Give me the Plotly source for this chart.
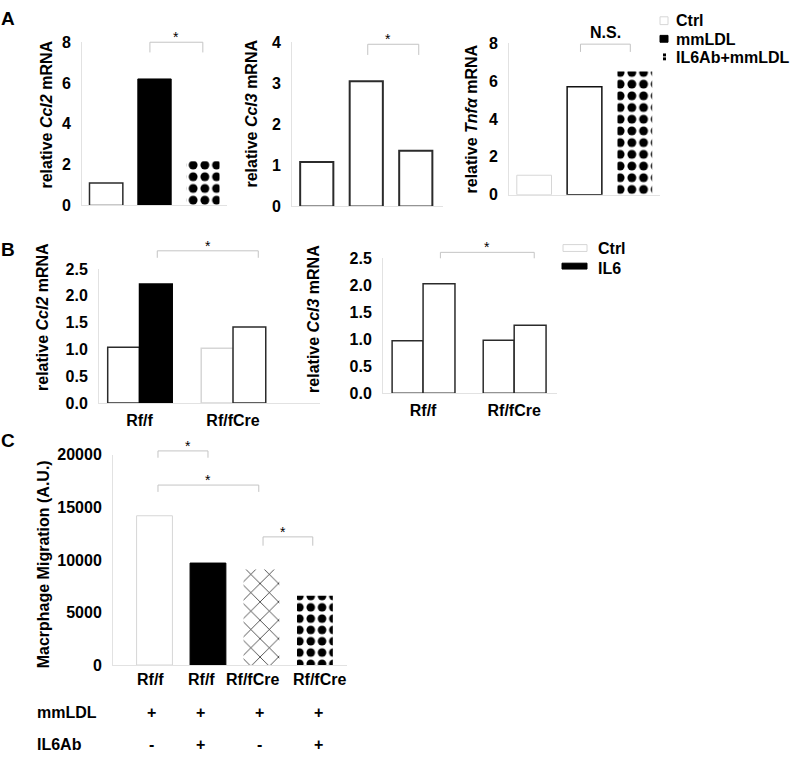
import plotly.graph_objects as go

W, H = 800, 762
FONT = "Liberation Sans, Arial, sans-serif"

# ---------------- data ----------------
a_groups = ["Ctrl", "mmLDL", "IL6Ab+mmLDL"]
ccl2_a = [1.1, 6.2, 2.17]
ccl3_a = [1.08, 3.05, 1.36]
tnfa_a = [1.03, 5.7, 6.5]

b_genotypes = ["Rf/f", "Rf/fCre"]
b_treatments = ["Ctrl", "IL6"]
ccl2_b_ctrl = [1.04, 1.02]
ccl2_b_il6 = [2.22, 1.42]
ccl3_b_ctrl = [0.97, 0.98]
ccl3_b_il6 = [2.03, 1.26]

c_labels = ["Rf/f", "Rf/f", "Rf/fCre", "Rf/fCre"]
c_migration = [14200, 9700, 9090, 6600]
c_mmldl = ["+", "+", "+", "+"]
c_il6ab = ["-", "+", "-", "+"]

a_ticks = [0, 2, 4, 6, 8]
a2_ticks = [0, 1, 2, 3, 4]
b_ticks = [0, 0.5, 1.0, 1.5, 2.0, 2.5]
c_ticks = [0, 5000, 10000, 15000, 20000]


def px(x):
    return x / W


def py(y):
    return 1 - y / H


# panel geometry (pixels) and axis ranges
panels = {
    1: dict(xd=(82, 227), yd=(35, 202), xr=(-0.5, 2.5), yr=(0, 8), ticks=a_ticks, fmt="", xlab=False),
    2: dict(xd=(292, 443), yd=(35, 203), xr=(-0.5, 2.55), yr=(0, 4), ticks=a2_ticks, fmt="", xlab=False),
    3: dict(xd=(509, 660), yd=(36, 191), xr=(-0.5, 2.5), yr=(0, 8), ticks=a_ticks, fmt="", xlab=False),
    4: dict(xd=(99, 320), yd=(267, 404), xr=(-0.433, 1.93), yr=(0, 2.5), ticks=b_ticks, fmt=".1f", xlab=True),
    5: dict(xd=(383, 557), yd=(256, 394), xr=(-0.44, 1.47), yr=(0, 2.5), ticks=b_ticks, fmt=".1f", xlab=True),
    6: dict(xd=(113, 347), yd=(457, 672), xr=(-0.776, 3.6), yr=(0, 20000), ticks=c_ticks, fmt="d", xlab=False),
}

fig = go.Figure()
AX = "#e2e2e2"
tickfont = dict(family=FONT, size=16, color="black", weight="bold")


def sfx(n):
    return "" if n == 1 else str(n)


for n, p in panels.items():
    fig.layout["xaxis" + sfx(n)] = dict(
        domain=[px(p["xd"][0]), px(p["xd"][1])], anchor="y" + sfx(n), range=list(p["xr"]),
        showline=True, linecolor=AX, linewidth=1, showgrid=False, zeroline=False,
        ticks="", showticklabels=p["xlab"], tickfont=tickfont, tickangle=0, fixedrange=True,
        ticklabelstandoff=3,
    )
    fig.layout["yaxis" + sfx(n)] = dict(
        domain=[py(p["yd"][1]), py(p["yd"][0])], anchor="x" + sfx(n), range=list(p["yr"]),
        tickvals=p["ticks"], tickformat=p["fmt"], showline=True, linecolor=AX, linewidth=1,
        showgrid=False, zeroline=False, ticks="", tickfont=tickfont, ticklabelstandoff=7,
        fixedrange=True,
    )

DARK = "#2b2b2b"
LIGHT = "#d6d6d6"
# patterned bars: marker colour is the pattern foreground in "replace" mode
dots = dict(fillmode="replace")

# ---- Panel A ----
fig.add_trace(go.Bar(
    x=a_groups, y=ccl2_a, xaxis="x", yaxis="y", width=0.69, showlegend=False,
    marker=dict(color=["white", "black", "black"],
                line=dict(color=[DARK, "black", "white"], width=[1.5, 1, 0]),
                pattern=dict(shape=["", "", "."], size=11.7, solidity=0.45, **dots)),
))
fig.add_trace(go.Bar(
    x=a_groups, y=ccl3_a, xaxis="x2", yaxis="y2", width=0.67, showlegend=False,
    marker=dict(color="white", line=dict(color=DARK, width=2)),
))
fig.add_trace(go.Bar(
    x=a_groups, y=tnfa_a, xaxis="x3", yaxis="y3", width=0.69, showlegend=False,
    marker=dict(color=["white", "white", "black"],
                line=dict(color=[LIGHT, "#111111", "white"], width=[1, 1.5, 0]),
                pattern=dict(shape=["", "", "."], size=11.7, solidity=0.45, **dots)),
))

# ---- Panel B ----
fig.add_trace(go.Bar(
    x=b_genotypes, y=ccl2_b_ctrl, xaxis="x4", yaxis="y4", offset=-0.34, width=0.34,
    showlegend=False, marker=dict(color="white", line=dict(color=[DARK, LIGHT], width=1.5)),
))
fig.add_trace(go.Bar(
    x=b_genotypes, y=ccl2_b_il6, xaxis="x4", yaxis="y4", offset=0.0, width=0.35,
    showlegend=False, marker=dict(color=["black", "white"], line=dict(color=["black", DARK], width=1.5)),
))
fig.add_trace(go.Bar(
    x=b_genotypes, y=ccl3_b_ctrl, xaxis="x5", yaxis="y5", offset=-0.34, width=0.34,
    showlegend=False, marker=dict(color="white", line=dict(color=DARK, width=1.5)),
))
fig.add_trace(go.Bar(
    x=b_genotypes, y=ccl3_b_il6, xaxis="x5", yaxis="y5", offset=0.0, width=0.35,
    showlegend=False, marker=dict(color="white", line=dict(color=DARK, width=1.5)),
))

# ---- Panel C ----
c_idx = list(range(len(c_labels)))
fig.add_trace(go.Bar(
    x=c_idx, y=c_migration, xaxis="x6", yaxis="y6", width=0.67, showlegend=False,
    marker=dict(color=["white", "black", "black", "black"],
                line=dict(color=[LIGHT, "black", "white", "white"], width=[1, 1, 0, 0]),
                pattern=dict(shape=["", "", "x", "."], size=[8, 8, 13, 11.3],
                             solidity=[0.3, 0.3, 0.1, 0.45], **dots)),
))

# ---- significance brackets (category units, data units) ----
brackets = [
    (1, 0.905, 2.0, 8.0, 7.5, "*"),
    (2, 1.03, 2.06, 3.95, 3.69, "*"),
    (3, 0.92, 1.91, 7.95, 7.54, "N.S."),
    (4, 0.19, 1.27, 2.84, 2.71, "*"),
    (5, 0.19, 1.22, 2.61, 2.50, "*"),
    (6, 0.065, 1.0, 20370, 19720, "*"),
    (6, 0.065, 1.95, 17120, 16470, "*"),
    (6, 2.03, 2.96, 12190, 11350, "*"),
]
shapes = []
annotations = []
for n, x0, x1, ytop, ydrop, lab in brackets:
    p = panels[n]
    xr0, xr1 = p["xr"]
    ymax = p["yr"][1]
    fx0 = (x0 - xr0) / (xr1 - xr0)
    fx1 = (x1 - xr0) / (xr1 - xr0)
    ft = ytop / ymax
    fd = ydrop / ymax
    shapes.append(dict(type="path", xref="x" + sfx(n) + " domain", yref="y" + sfx(n) + " domain",
                       path=f"M {fx0},{fd} L {fx0},{ft} L {fx1},{ft} L {fx1},{fd}",
                       line=dict(color="#c4c4c4", width=1)))
    if lab == "*":
        annotations.append(dict(xref="x" + sfx(n) + " domain", yref="y" + sfx(n) + " domain",
                                x=(fx0 + fx1) / 2, y=ft, text="*", showarrow=False,
                                yanchor="bottom", yshift=-5,
                                font=dict(family=FONT, size=14, color="black")))
    else:
        annotations.append(dict(xref="x" + sfx(n) + " domain", yref="y" + sfx(n) + " domain",
                                x=(fx0 + fx1) / 2, y=ft, text="<b>" + lab + "</b>", showarrow=False,
                                yanchor="bottom", yshift=1,
                                font=dict(family=FONT, size=16, color="black")))

# ---- axis titles ----
titles = [
    (47, 109, "relative <i>Ccl2</i> mRNA"),
    (252, 108, "relative <i>Ccl3</i> mRNA"),
    (471, 114, "relative <i>Tnfα</i> mRNA"),
    (43, 316, "relative <i>Ccl2</i> mRNA"),
    (314, 318, "relative <i>Ccl3</i> mRNA"),
    (43, 569, "Macrphage Migration (A.U.)"),
]
for x, y, t in titles:
    annotations.append(dict(xref="paper", yref="paper", x=px(x), y=py(y), text="<b>" + t + "</b>",
                            textangle=-90, showarrow=False, xanchor="center", yanchor="middle",
                            font=dict(family=FONT, size=16, color="black")))

# panel letters
for lab, y in [("A", 11), ("B", 247), ("C", 442)]:
    annotations.append(dict(xref="paper", yref="paper", x=px(8), y=py(y), text="<b>" + lab + "</b>",
                            showarrow=False, xanchor="center", yanchor="middle",
                            font=dict(family=FONT, size=19, color="black")))

# genotype labels and treatment rows under panel C (label nudges in px)
c_label_nudge = [-4, -6, -9, 5]
c_sign_nudge = [-3, -7, -2, 4]
for i, t in enumerate(c_labels):
    annotations.append(dict(xref="x6", yref="paper", x=i, y=py(687), text="<b>" + t + "</b>",
                            showarrow=False, xanchor="center", yanchor="middle", xshift=c_label_nudge[i],
                            font=dict(family=FONT, size=16, color="black")))
for row_lab, vals, y in [("mmLDL", c_mmldl, 721), ("IL6Ab", c_il6ab, 753)]:
    annotations.append(dict(xref="paper", yref="paper", x=px(35), y=py(y), text="<b>" + row_lab + "</b>",
                            showarrow=False, xanchor="left", yanchor="middle",
                            font=dict(family=FONT, size=16, color="black")))
    for i, v in enumerate(vals):
        annotations.append(dict(xref="x6", yref="paper", x=i, y=py(y), text="<b>" + v + "</b>",
                                showarrow=False, xanchor="center", yanchor="middle", xshift=c_sign_nudge[i],
                                font=dict(family=FONT, size=16, color="black")))

# ---- manual legends ----
legA = [("Ctrl", 13), ("mmLDL", 32), ("IL6Ab+mmLDL", 51)]
shapes.append(dict(type="rect", xref="paper", yref="paper", x0=px(660), x1=px(668), y0=py(17), y1=py(9),
                   fillcolor="white", line=dict(color=LIGHT, width=1)))
shapes.append(dict(type="rect", xref="paper", yref="paper", x0=px(660), x1=px(668), y0=py(35), y1=py(28),
                   fillcolor="black", line=dict(color="black", width=1)))
for yy in (48, 52):
    shapes.append(dict(type="rect", xref="paper", yref="paper", x0=px(663), x1=px(666), y0=py(yy + 1.5),
                       y1=py(yy - 1.5), fillcolor="black", line=dict(width=0)))
for t, y in legA:
    annotations.append(dict(xref="paper", yref="paper", x=px(674), y=py(y), text="<b>" + t + "</b>",
                            showarrow=False, xanchor="left", yanchor="middle",
                            font=dict(family=FONT, size=16, color="black")))
shapes.append(dict(type="rect", xref="paper", yref="paper", x0=px(563), x1=px(587), y0=py(249), y1=py(242),
                   fillcolor="white", line=dict(color=LIGHT, width=1)))
shapes.append(dict(type="rect", xref="paper", yref="paper", x0=px(562), x1=px(587), y0=py(267), y1=py(261),
                   fillcolor="black", line=dict(color="black", width=1)))
for t, y in zip(b_treatments, [246, 266]):
    annotations.append(dict(xref="paper", yref="paper", x=px(596), y=py(y), text="<b>" + t + "</b>",
                            showarrow=False, xanchor="left", yanchor="middle",
                            font=dict(family=FONT, size=16, color="black")))

fig.update_layout(
    width=W, height=H, margin=dict(l=0, r=0, t=0, b=0),
    paper_bgcolor="white", plot_bgcolor="white", barmode="overlay",
    shapes=shapes, annotations=annotations, showlegend=False,
    font=dict(family=FONT, color="black"),
)

fig.write_html("out.html", config={"displayModeBar": False},
               post_script="document.body.style.margin='0px';document.body.style.overflow='hidden';")
